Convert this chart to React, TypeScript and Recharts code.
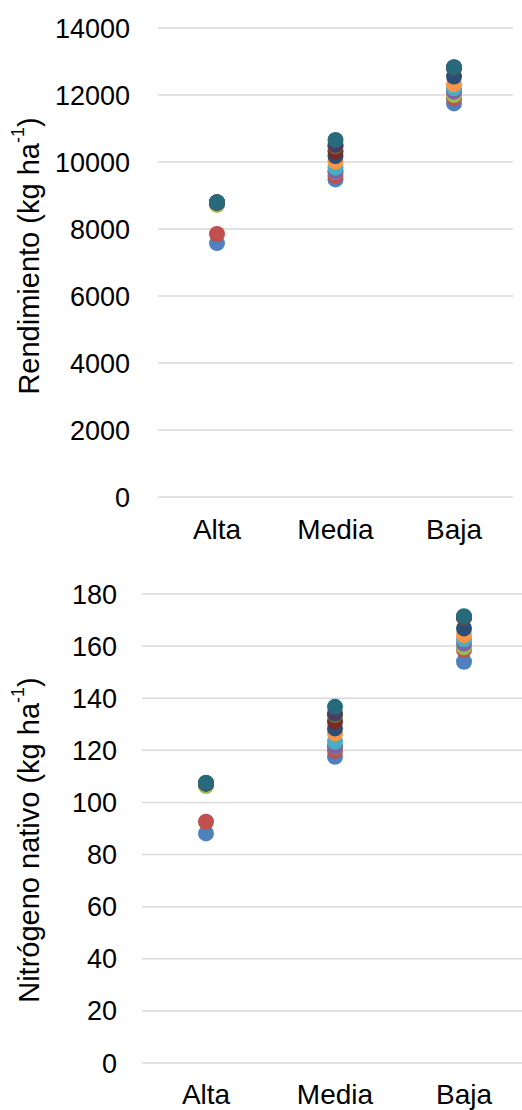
import { LineChart, Line, XAxis, YAxis, CartesianGrid } from 'recharts';

const categorias = ['Alta', 'Media', 'Baja'];

// Office palette, one colour per series (drawn in this order, last on top)
const colores = [
  '#4F81BD', '#C0504D', '#9BBB59', '#8064A2', '#4BACC6', '#F79646',
  '#2C4D75', '#772C2A', '#5F7530', '#4D3B62', '#276A7C',
];

// values per series: [Alta, Media, Baja]
const rendimiento = [
  [7580, 9480, 11750],
  [7850, 9580, 11900],
  [8720, 9700, 12000],
  [8790, 9710, 12100],
  [8790, 9830, 12200],
  [8790, 10010, 12320],
  [8790, 10180, 12550],
  [8790, 10310, 12810],
  [8790, 10470, 12810],
  [8790, 10510, 12820],
  [8800, 10660, 12830],
];

const nitrogeno = [
  [88.1, 117.5, 154.0],
  [92.6, 119.8, 158.5],
  [106.3, 121.3, 159.5],
  [107.3, 121.4, 161.0],
  [107.3, 123.3, 162.6],
  [107.3, 126.5, 164.2],
  [107.3, 128.4, 166.8],
  [107.3, 131.0, 171.0],
  [107.3, 133.5, 171.0],
  [107.3, 134.2, 171.2],
  [107.6, 136.7, 171.5],
];

const ticksRendimiento = [0, 2000, 4000, 6000, 8000, 10000, 12000, 14000];
const ticksNitrogeno = [0, 20, 40, 60, 80, 100, 120, 140, 160, 180];

const FONT = "Arial, 'Liberation Sans', sans-serif";

const toRows = (series: number[][]) =>
  categorias.map((cat, i) => {
    const row: Record<string, string | number> = { cat };
    series.forEach((s, k) => {
      row[`s${k}`] = s[i];
    });
    return row;
  });

interface PanelProps {
  series: number[][];
  ticks: number[];
  title: string;
  top: number;
  width: number;
  height: number;
  axisWidth: number;
  marginTop: number;
  marginRight: number;
  marginBottom: number;
  xPad: number;
  yTickMargin: number;
  xTickMargin: number;
  titleX: number;
  titleY: number;
}

const Panel = (p: PanelProps) => {
  const data = toRows(p.series);
  return (
    <div style={{ position: 'absolute', left: 0, top: p.top, width: 522, height: p.height, overflow: 'hidden' }}>
      <LineChart
        width={p.width}
        height={p.height}
        data={data}
        margin={{ top: p.marginTop, right: p.marginRight, left: 0, bottom: p.marginBottom }}
      >
        <CartesianGrid vertical={false} stroke="#D9D9D9" strokeWidth={1.5} />
        <XAxis
          dataKey="cat"
          axisLine={false}
          tickLine={false}
          tickSize={0}
          tickMargin={p.xTickMargin}
          padding={{ left: p.xPad, right: p.xPad }}
          height={40}
          interval={0}
          tick={{ fill: '#000', fontSize: 28, fontFamily: FONT }}
        />
        <YAxis
          domain={[p.ticks[0], p.ticks[p.ticks.length - 1]]}
          ticks={p.ticks}
          interval={0}
          width={p.axisWidth}
          axisLine={false}
          tickLine={false}
          tickSize={0}
          tickMargin={p.yTickMargin}
          tick={{ fill: '#000', fontSize: 27, fontFamily: FONT }}
        />
        {p.series.map((_, k) => (
          <Line
            key={k}
            dataKey={`s${k}`}
            stroke="none"
            isAnimationActive={false}
            activeDot={false}
            dot={{ r: 8, fill: colores[k], stroke: colores[k], strokeWidth: 0 }}
          />
        ))}
        <text
          x={p.titleX}
          y={p.titleY}
          transform={`rotate(-90 ${p.titleX} ${p.titleY})`}
          textAnchor="middle"
          dominantBaseline="central"
          fontSize={29}
          fontFamily={FONT}
          fill="#000"
        >
          {p.title} (kg ha
          <tspan fontSize={18} dy={-11}>-1</tspan>
          <tspan dy={11}>)</tspan>
        </text>
      </LineChart>
    </div>
  );
};

export default function App() {
  return (
    <div style={{ position: 'absolute', left: 0, top: 0, width: 522, height: 1110, overflow: 'hidden' }}>
      <Panel
        series={rendimiento}
        ticks={ticksRendimiento}
        title="Rendimiento"
        top={0}
        width={522}
        height={560}
        axisWidth={158}
        marginTop={28}
        marginRight={9}
        marginBottom={23}
        xPad={59}
        yTickMargin={28}
        xTickMargin={22}
        titleX={29}
        titleY={256}
      />
      <Panel
        series={nitrogeno}
        ticks={ticksNitrogeno}
        title="Nitrógeno nativo"
        top={560}
        width={530}
        height={550}
        axisWidth={142}
        marginTop={34}
        marginRight={2}
        marginBottom={7}
        xPad={64}
        yTickMargin={25}
        xTickMargin={21}
        titleX={29}
        titleY={280}
      />
    </div>
  );
}
